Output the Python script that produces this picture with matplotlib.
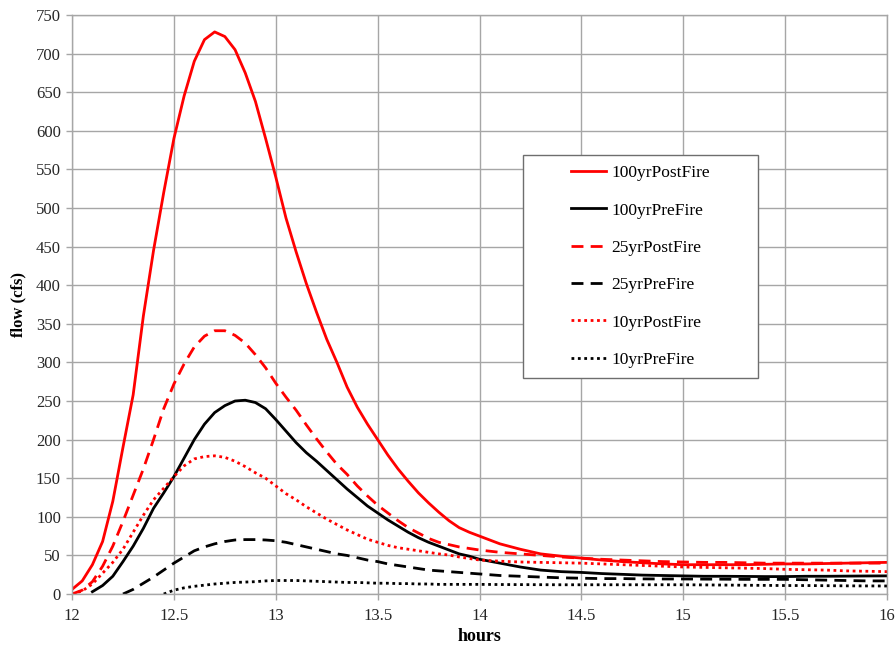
import numpy as np
import matplotlib
matplotlib.use('Agg')
import matplotlib.pyplot as plt
from matplotlib.patches import Rectangle
from matplotlib.ticker import FormatStrFormatter

nan = np.nan

# time axis: 0.05 h steps to 14 h, then 0.1 h steps
hours = np.concatenate([12 + 0.05*np.arange(41), 14.1 + 0.1*np.arange(20)])

#flows (cfs)
post100 = [6, 17, 38, 68, 120, 190, 258, 360, 445, 520,
           590, 645, 690, 718, 728, 722, 705, 675, 638, 590,
           540, 487, 443, 402, 365, 330, 300, 268, 242, 220,
           200, 180, 162, 146, 131, 118, 106, 95, 86, 80,
           75,
           65, 58, 52, 49, 46.5, 44, 42, 40.5, 39, 38,
           38, 38, 38, 38.5, 39, 39, 39.5, 40, 40.5, 41]
pre100 = [nan, nan, 3, 11, 23, 42, 62, 85, 111, 131,
          152, 176, 200, 220, 235, 244, 250, 251, 248, 240,
          226, 211, 196, 183, 172, 160, 148, 136, 125, 114,
          105, 96, 88, 80, 73, 67, 62, 57, 52, 49,
          45,
          40, 35, 31, 29, 28, 26.5, 25.5, 24.5, 24, 23.5,
          23, 23, 22.8, 22.6, 22.6, 23, 23, 23.2, 23.4, 23.5]
post25 = [0, 5, 16, 36, 62, 94, 128, 162, 200, 240,
          272, 298, 320, 334, 341, 341, 335, 325, 310, 293,
          273, 255, 238, 219, 201, 184, 168, 155, 140, 127,
          115, 105, 95, 86, 79, 72, 67, 64, 61, 59,
          57,
          54, 52, 50, 48, 46.5, 45, 44, 43, 42, 41.5,
          41, 41, 40.5, 40, 40, 40, 40, 40, 40, 40]
pre25 = [nan, nan, nan, nan, nan, 0, 6, 14, 22, 31,
         40, 48, 56, 61, 65, 68, 70, 70.5, 70.5, 70,
         69, 67, 64, 61, 58, 55, 52, 50, 47, 44,
         42, 39, 37, 35, 33, 31, 30, 29, 28, 27,
         26,
         24, 23, 22, 21, 20.5, 20, 20, 19.6, 19.5, 19.5,
         19.3, 19.2, 19, 19, 19, 18.5, 18, 17.5, 17, 17]
post10 = [0, 4, 13, 27, 41, 58, 80, 102, 122, 137,
          152, 166, 175, 178, 179, 177, 172, 165, 157, 150,
          140, 130, 122, 113, 105, 97, 90, 83, 77, 71,
          67, 63, 60, 58, 56, 54, 52, 50.5, 48, 46,
          44,
          42.5, 41.5, 41, 40.5, 40, 39, 38, 37, 36, 35,
          34.5, 34, 33.5, 33, 32, 31.5, 31, 30, 29.5, 29]
pre10 = [nan, nan, nan, nan, nan, nan, nan, nan, nan, 0,
         5, 8, 10, 11.5, 13, 14, 15, 15.5, 16, 17,
         17.5, 17.5, 17.5, 17, 16.5, 16, 15.5, 15, 15, 14.5,
         14, 14, 13.5, 13.5, 13, 13, 12.5, 12.5, 12.5, 12.5,
         12.5,
         12.3, 12.2, 12.1, 12, 12, 12, 12, 12, 12, 12,
         11.8, 11.6, 11.4, 11.2, 11, 11, 10.8, 10.6, 10.5, 10.4]

labels = ['100yrPostFire', '100yrPreFire', '25yrPostFire',
          '25yrPreFire', '10yrPostFire', '10yrPreFire']
series = [post100, pre100, post25, pre25, post10, pre10]
colors = ['#ff0000', 'black', '#ff0000', 'black', '#ff0000', 'black']
dash = (0, (4.3, 2.6))
dot = (0, (1, 1.3))
styles = ['-', '-', dash, dash, dot, dot]

plt.rcParams['font.family'] = ['Liberation Serif', 'DejaVu Serif']

fig = plt.figure(figsize=(8.96, 6.49), dpi=100)
ax = fig.add_axes([0.0804, 0.0847, 0.9096, 0.8923])

for y, lab, c, ls in zip(series, labels, colors, styles):
    ax.plot(hours, y, color=c, linestyle=ls, linewidth=2, label=lab)

ax.set_xlim(12, 16)
ax.set_ylim(0, 750)
ax.set_xticks(np.arange(12, 16.01, 0.5))
ax.set_yticks(np.arange(0, 751, 50))
ax.xaxis.set_major_formatter(FormatStrFormatter('%g'))
ax.grid(True, color='#a6a6a6', linewidth=1)
ax.set_axisbelow(True)
for s in ax.spines.values():
    s.set_color('#a6a6a6')
    s.set_linewidth(1)
ax.tick_params(colors='#a6a6a6', labelcolor='#262626', labelsize=12,
               length=4, width=1)
ax.tick_params(axis='y', pad=4)
ax.tick_params(axis='x', pad=6)

ax.set_xlabel('hours', fontsize=13, fontweight='bold', labelpad=3)
ax.set_ylabel('flow (cfs)', fontsize=12, fontweight='bold', labelpad=7)

# legend box like excel: wide frame, contents centered
box = Rectangle((0.553, 0.373), 0.289, 0.385, transform=ax.transAxes,
                facecolor='white', edgecolor='#6e6e6e', linewidth=1, zorder=4)
ax.add_patch(box)
leg = ax.legend(loc='center', bbox_to_anchor=(0.6975, 0.5656), frameon=False,
                fontsize=12.5, handlelength=2.0, handletextpad=0.3,
                labelspacing=1.22, borderpad=0)
leg.set_zorder(5)

fig.savefig('out.png', dpi=100)
